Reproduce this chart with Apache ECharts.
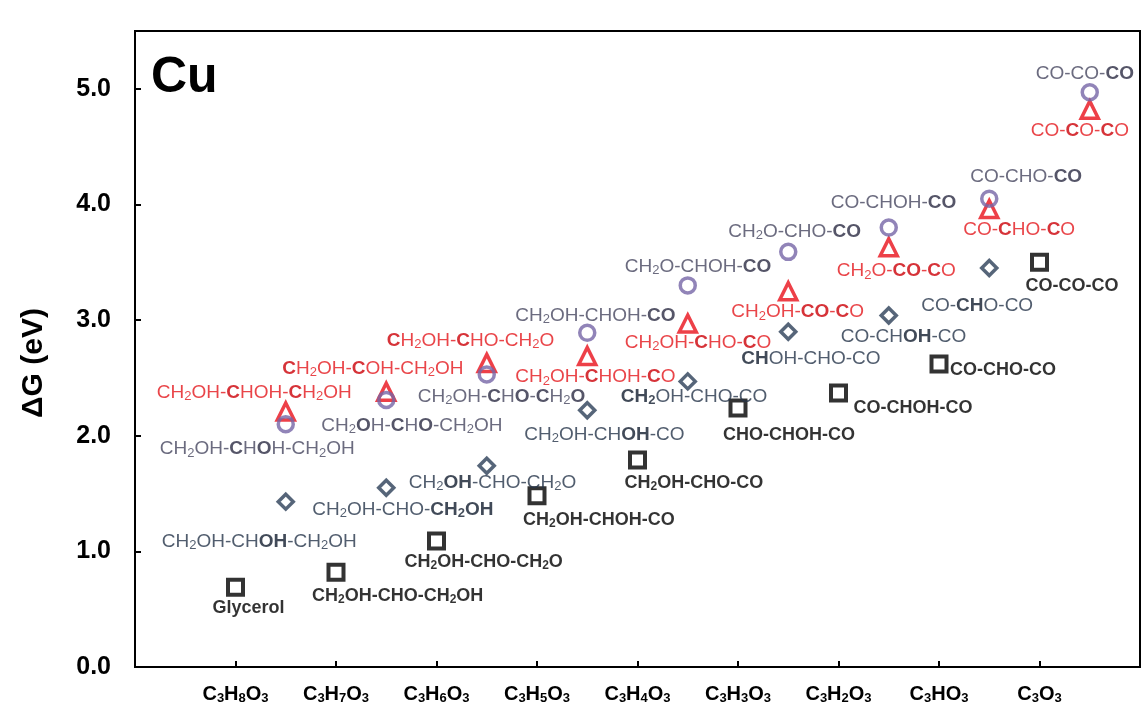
<!DOCTYPE html>
<html>
<head>
<meta charset="utf-8">
<title>Cu – ΔG of glycerol dehydrogenation intermediates</title>
<script src="https://cdn.jsdelivr.net/npm/echarts@6.0.0/dist/echarts.min.js"></script>
<style>
  html, body { margin: 0; padding: 0; background: #fff; }
  #chart { width: 1143px; height: 719px; }
</style>
</head>
<body>
<div id="chart"></div>
<script>
// ---- data ---------------------------------------------------------------
// Composition of each dehydrogenation step (x tick labels at 1..9)
const formulas = ['C3H8O3', 'C3H7O3', 'C3H6O3', 'C3H5O3', 'C3H4O3', 'C3H3O3', 'C3H2O3', 'C3HO3', 'C3O3'];

// Most stable intermediates (squares), sitting on the formula positions
const squareX = [1, 2, 3, 4, 5, 6, 7, 8, 9];
const squareDG = [0.69, 0.82, 1.09, 1.48, 1.79, 2.24, 2.37, 2.62, 3.50];
const squareNames = ['*Glycerol*', '*CH2OH-CHO-CH2OH*', '*CH2OH-CHO-CH2O*', '*CH2OH-CHOH-CO*',
  '*CH2OH-CHO-CO*', '*CHO-CHOH-CO*', '*CO-CHOH-CO*', '*CO-CHO-CO*', '*CO-CO-CO*'];

// Transition steps (diamonds), between neighbouring formulas
const diamondX = [1.5, 2.5, 3.5, 4.5, 5.5, 6.5, 7.5, 8.5];
const diamondDG = [1.43, 1.55, 1.74, 2.22, 2.47, 2.90, 3.04, 3.45];
const diamondNames = ['CH2OH-CH*OH*-CH2OH', 'CH2OH-CHO-*CH2OH*', 'CH2*OH*-CHO-CH2O', 'CH2OH-CH*OH*-CO',
  '*CH2*OH-CHO-CO', '*CH*OH-CHO-CO', 'CO-CH*OH*-CO', 'CO-*CH*O-CO'];

// C–C cleavage barriers (triangles)
const triangleX = [1.5, 2.5, 3.5, 4.5, 5.5, 6.5, 7.5, 8.5, 9.5];
const triangleDG = [2.21, 2.38, 2.63, 2.69, 2.97, 3.25, 3.63, 3.96, 4.82];
const triangleNames = ['CH2OH-*C*HOH-*C*H2OH', '*C*H2OH-*C*OH-CH2OH', '*C*H2OH-*C*HO-CH2O', 'CH2OH-*C*HOH-*C*O',
  'CH2OH-*C*HO-*C*O', 'CH2OH-*CO*-*C*O', 'CH2O-*CO*-*C*O', 'CO-*C*HO-*C*O', 'CO-*C*O-*C*O'];

// C–O cleavage barriers (circles)
const circleX = [1.5, 2.5, 3.5, 4.5, 5.5, 6.5, 7.5, 8.5, 9.5];
const circleDG = [2.10, 2.31, 2.53, 2.89, 3.30, 3.59, 3.80, 4.05, 4.97];
const circleNames = ['CH2OH-*C*H*O*H-CH2OH', 'CH2*O*H-*C*H*O*-CH2OH', 'CH2OH-*C*H*O*-*C*H2*O*', 'CH2OH-CHOH-*CO*',
  'CH2O-CHOH-*CO*', 'CH2O-CHO-*CO*', 'CO-CHOH-*CO*', 'CO-CHO-*CO*', 'CO-CO-*CO*'];

// ---- label placement (pixel offsets of the label's left/middle from the marker) ----
const squareLabelOffsets = [[-23, 21], [-24, 24], [-32, 21], [-14, 24], [-13, 23], [-15, 27], [15, 15], [11, 6], [-14, 24]];
const diamondLabelOffsets = [[-124, 40], [-74, 22], [-78, 17], [-63, 24], [-67, 15], [-47, 27], [-48, 21], [-68, 38]];
const triangleLabelOffsets = [[-129, -19], [-104, -23], [-100, -22], [-72, 21], [-63, 19], [-57, 21], [-52, 24], [-26, 21], [-59, 21]];
const circleLabelOffsets = [[-126, 25], [-65, 26], [-69, 22], [-72, -17], [-63, -19], [-60, -20], [-58, -25], [-19, -22], [-54, -19]];

// ---- helpers ------------------------------------------------------------
const FONT = '"Liberation Sans", Arial, Helvetica, sans-serif';

// '*' toggles bold, digits are written as subscripts
function toRich(src) {
  let out = '', bold = false, buf = '', key = null;
  const flush = () => { if (buf) out += '{' + key + '|' + buf + '}'; buf = ''; };
  for (const ch of src) {
    if (ch === '*') { bold = !bold; continue; }
    const sub = ch >= '0' && ch <= '9';
    const k = (bold ? 'b' : 'n') + (sub ? 's' : '');
    if (k !== key) { flush(); key = k; }
    buf += ch;
  }
  flush();
  return out;
}

function richStyles(color, boldColor, size, subSize) {
  const base = { fontFamily: FONT, textBorderWidth: 0 };
  return {
    n: Object.assign({}, base, { fontSize: size, color: color, lineHeight: size + 2 }),
    b: Object.assign({}, base, { fontSize: size, fontWeight: 'bold', color: boldColor, lineHeight: size + 2 }),
    ns: Object.assign({}, base, { fontSize: subSize, color: color, lineHeight: 8, verticalAlign: 'bottom' }),
    bs: Object.assign({}, base, { fontSize: subSize, fontWeight: 'bold', color: boldColor, lineHeight: 8, verticalAlign: 'bottom' })
  };
}

function scatterSeries(opt) {
  return {
    type: 'scatter',
    name: opt.name,
    symbol: opt.symbol,
    symbolSize: opt.size,
    itemStyle: { color: 'rgba(255,255,255,0)', borderColor: opt.color, borderWidth: opt.lineWidth },
    label: {
      show: true,
      position: 'inside',
      align: 'left',
      verticalAlign: 'middle',
      color: opt.textColor,
      textBorderWidth: 0,
      formatter: p => toRich(opt.names[p.dataIndex]),
      rich: richStyles(opt.textColor, opt.boldColor, opt.fontSize, opt.subSize)
    },
    emphasis: { disabled: true },
    data: opt.ys.map((y, i) => ({ value: [opt.xs[i], y], label: { offset: opt.offsets[i] } }))
  };
}

// ---- chart --------------------------------------------------------------
const chart = echarts.init(document.getElementById('chart'), null, { renderer: 'canvas' });

const axisRich = richStyles('#000', '#000', 20, 13);

chart.setOption({
  animation: false,
  backgroundColor: '#fff',
  grid: { left: 135, right: 3, top: 31, bottom: 52, show: true, borderColor: '#000', borderWidth: 2, backgroundColor: 'transparent' },
  xAxis: {
    type: 'value', min: 0, max: 10, interval: 1,
    axisLine: { onZero: false, lineStyle: { color: '#000', width: 2 } },
    axisTick: { inside: true, length: 6, lineStyle: { color: '#000', width: 2 } },
    splitLine: { show: false },
    axisLabel: {
      margin: 16,
      formatter: v => (v >= 1 && v <= formulas.length ? toRich('*' + formulas[v - 1] + '*') : ''),
      rich: axisRich
    }
  },
  yAxis: {
    type: 'value', min: 0, max: 5.5, interval: 1,
    axisLine: { onZero: false, lineStyle: { color: '#000', width: 2 } },
    axisTick: { inside: true, length: 6, lineStyle: { color: '#000', width: 2 } },
    splitLine: { show: false },
    axisLabel: {
      margin: 24, showMaxLabel: false,
      fontFamily: FONT, fontSize: 25, fontWeight: 'bold', color: '#000',
      formatter: v => v.toFixed(1)
    }
  },
  graphic: [
    { type: 'text', x: 151, y: 78, style: { text: 'Cu', font: 'bold 50px ' + FONT, fill: '#000', textVerticalAlign: 'middle' } },
    { type: 'text', x: 34, y: 363, rotation: Math.PI / 2,
      style: { text: 'ΔG (eV)', font: 'bold 30px ' + FONT, fill: '#000', textAlign: 'center', textVerticalAlign: 'middle' } }
  ],
  series: [
    scatterSeries({ name: 'intermediate', symbol: 'rect', size: 15, lineWidth: 4, color: '#000',
      xs: squareX, ys: squareDG, names: squareNames, offsets: squareLabelOffsets,
      textColor: '#000', boldColor: '#000', fontSize: 18, subSize: 12 }),
    scatterSeries({ name: 'dehydrogenation', symbol: 'diamond', size: 15, lineWidth: 3.5, color: '#2c3f58',
      xs: diamondX, ys: diamondDG, names: diamondNames, offsets: diamondLabelOffsets,
      textColor: '#26344a', boldColor: '#121d2e', fontSize: 19, subSize: 13 }),
    scatterSeries({ name: 'C–C cleavage', symbol: 'triangle', size: 17, lineWidth: 3.5, color: '#e8101a',
      xs: triangleX, ys: triangleDG, names: triangleNames, offsets: triangleLabelOffsets,
      textColor: '#e4161c', boldColor: '#cc0008', fontSize: 19, subSize: 13 }),
    scatterSeries({ name: 'C–O cleavage', symbol: 'circle', size: 15, lineWidth: 3.5, color: '#7565a6',
      xs: circleX, ys: circleDG, names: circleNames, offsets: circleLabelOffsets,
      textColor: '#46465f', boldColor: '#2a2a42', fontSize: 19, subSize: 13 })
  ]
});
</script>
</body>
</html>
